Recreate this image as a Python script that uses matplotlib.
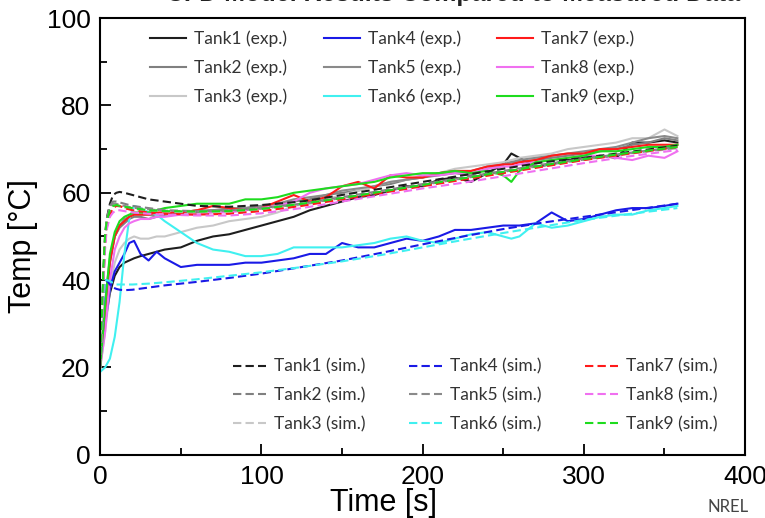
import matplotlib
matplotlib.use("Agg")
import matplotlib.pyplot as plt

# experimental data, time grid [s]
exp_t = [0, 3, 6, 9, 12, 15, 18, 21, 25, 30, 35, 40, 50, 60, 70, 80, 90, 100,
         110, 120, 130, 140, 150, 160, 170, 180, 190, 200, 210, 220, 230, 240,
         250, 255, 260, 270, 280, 290, 300, 310, 320, 330, 340, 350, 358]

tank1_exp = [22, 30, 37, 41, 43, 44, 44.5, 45, 45.5, 46, 46.5, 47, 47.5, 49, 50, 50.5, 51.5, 52.5,
             53.5, 54.5, 56, 57, 58, 59, 59.5, 60.5, 61.5, 61.5, 63, 63.5, 62.5, 64.5,
             66.5, 69, 68, 66, 66.5, 67.5, 68, 68.5, 68, 71.5, 71.5, 72, 71.5]
tank2_exp = [22, 35, 45, 50, 52, 53, 54, 54.5, 54.5, 54, 54.5, 55, 55.5, 55.5, 56, 56, 56.5, 57,
             57.5, 58, 58.5, 59.5, 60, 60.5, 61.5, 62, 63, 63.5, 64, 64.5, 64, 65.5,
             66.5, 67, 67, 67.5, 68, 68.5, 69, 69.5, 70, 71, 71.5, 72.5, 72]
tank3_exp = [20, 28, 38, 44, 47, 48.5, 49.5, 50, 49.5, 49.5, 50, 50, 51, 52, 52.5, 53.5, 54, 54.5,
             55.5, 57, 57.5, 58.5, 59.5, 60.5, 61.5, 62.5, 63, 64, 64.5, 65.5, 66, 66.5,
             67, 67.5, 68, 68.5, 69, 70, 70.5, 71, 71.5, 72.5, 72.5, 74.5, 73]
tank4_exp = [23, 30, 38, 42, 44, 46, 48.5, 49, 46, 44.5, 46.5, 45, 43, 43.5, 43.5, 43.5, 44, 44,
             44.5, 45, 46, 46, 48.5, 47.5, 47.5, 48.5, 49.5, 49, 50, 51.5, 51.5, 52,
             52.5, 52.5, 52.5, 53, 55.5, 53.5, 54, 55, 56, 56.5, 56.5, 57, 57.5]
tank5_exp = [21, 33, 44, 50, 52.5, 54, 54.5, 55, 55, 55, 54.5, 55, 55.5, 56, 56, 56.5, 56.5, 57,
             57.5, 58.5, 59, 59.5, 60.5, 61, 61.5, 62.5, 63, 63.5, 64.5, 65, 65, 66,
             66.5, 67, 67.5, 68, 68.5, 69, 69.5, 70, 70.5, 71.5, 72.5, 73, 72.5]
tank6_exp = [19, 20, 22, 27, 35, 46, 54, 57, 56.5, 55.5, 55, 53.5, 51, 48.5, 47, 46.5, 45.5, 45.5,
             46, 47.5, 47.5, 47.5, 47.5, 48, 48.5, 49.5, 50, 49, 48.5, 49.5, 50.5, 51,
             50, 49.5, 50, 53, 52, 52.5, 53.5, 54.5, 55, 55, 56, 56.5, 57]
tank7_exp = [20, 32, 44, 50, 52.5, 53.5, 54.5, 55, 55, 55, 55.5, 55.5, 55.5, 56, 57, 56.5, 56, 56.5,
             58, 59.5, 58, 59, 61.5, 62.5, 61, 64, 63.5, 63.5, 64.5, 65, 65, 66,
             66.5, 66.5, 67, 67.5, 68.5, 69, 69, 70, 70, 70.5, 71, 71, 71]
tank8_exp = [20, 28, 40, 47, 50, 52, 53, 53.5, 54, 54, 54.5, 54.5, 55, 55, 55.5, 55.5, 56, 56.5,
             57, 58, 60, 61, 61.5, 62, 63, 64, 64.5, 64, 64, 64.5, 64.5, 65.5,
             66, 66, 66.5, 67, 67.5, 68, 68.5, 68.5, 68, 67.5, 68.5, 68, 69.5]
tank9_exp = [20, 34, 46, 51, 53.5, 54.5, 55, 55.5, 55.5, 55.5, 56, 56.5, 57, 57.5, 57.5, 57.5, 58.5, 58.5,
             59, 60, 60.5, 61, 61.5, 62, 62.5, 63.5, 64, 64.5, 64.5, 65, 64.5, 65,
             64, 62.5, 65, 67, 67.5, 68, 68.5, 69.5, 69.5, 70, 70.5, 70.5, 71]

# simulation data
sim_t = [0, 1, 2, 3, 4, 6, 8, 10, 12, 15, 20, 30, 40, 60, 80, 100, 125, 150,
         175, 200, 225, 250, 275, 300, 325, 358]

tank1_sim = [20, 30, 42, 50, 54, 57.5, 59.5, 60, 60.2, 60, 59.5, 58.5, 58, 57, 56.8, 57.2, 58, 59.5,
             61, 62.5, 64, 65.5, 67, 68, 69.2, 70.8]
tank2_sim = [20, 30, 42, 50, 54, 57, 58, 58, 57.8, 57.5, 57, 56.5, 56, 55.8, 56, 56.5, 57.5, 59,
             60.5, 62, 63.5, 65, 66.5, 67.8, 69, 70.5]
tank3_sim = [20, 29, 40, 48, 53, 56, 57, 57, 56.8, 56.5, 56.2, 56, 55.7, 55.5, 55.6, 56.2, 57.3, 58.7,
             60.2, 61.7, 63.2, 64.7, 66.2, 67.5, 68.8, 70.2]
tank4_sim = [20, 28, 36, 40, 40, 39, 38.3, 38, 37.8, 37.7, 37.8, 38.3, 38.8, 39.6, 40.5, 41.5, 43, 44.5,
             46.3, 48.2, 50, 51.7, 53.2, 54.5, 55.8, 57.5]
tank5_sim = [20, 30, 41, 49, 53.5, 56.5, 57.5, 57.5, 57.2, 57, 56.6, 56.2, 55.9, 55.7, 55.9, 56.4, 57.4, 58.8,
             60.3, 61.8, 63.3, 64.8, 66.3, 67.6, 68.9, 70.3]
tank6_sim = [20, 28, 36, 40, 40, 39.8, 39.3, 39, 39, 39, 39, 39.2, 39.5, 40.2, 41, 41.8, 43, 44.3,
             45.8, 47.5, 49.2, 50.8, 52.3, 53.8, 55, 56.5]
tank7_sim = [20, 29, 40, 48, 52, 55, 56.5, 57, 57, 56.5, 56, 55.5, 55.2, 55, 55.2, 55.8, 57, 58.5,
             60, 61.5, 63, 64.5, 66, 67.5, 68.8, 70.5]
tank8_sim = [20, 28, 39, 47, 51.5, 54.5, 55.5, 56, 56, 55.8, 55.5, 55.2, 55, 54.8, 54.8, 55.3, 56.5, 58,
             59.5, 61, 62.3, 63.8, 65.3, 66.8, 68.2, 69.8]
tank9_sim = [20, 31, 43, 50, 53.5, 56, 57, 57.2, 57, 56.8, 56.5, 56, 55.8, 55.7, 55.8, 56.3, 57.5, 58.8,
             60.3, 61.8, 63.3, 64.8, 66.3, 67.7, 69, 70.5]

exp_series = [tank1_exp, tank2_exp, tank3_exp, tank4_exp, tank5_exp,
              tank6_exp, tank7_exp, tank8_exp, tank9_exp]
sim_series = [tank1_sim, tank2_sim, tank3_sim, tank4_sim, tank5_sim,
              tank6_sim, tank7_sim, tank8_sim, tank9_sim]
colors = ['#1e1e1e', '#808080', '#c8c8c8', '#1a1ae6', '#8a8a8a',
          '#40f0f0', '#ff1a1a', '#f070f0', '#1edc1e']

axis_font = ['Liberation Sans', 'DejaVu Sans']
legend_font = ['Lato', 'DejaVu Sans']

fig = plt.figure(figsize=(7.65, 5.18), dpi=100)
ax = fig.add_axes([0.131, 0.122, 0.843, 0.843])

exp_lines = []
for i, (y, c) in enumerate(zip(exp_series, colors)):
    ln, = ax.plot(exp_t, y, color=c, lw=1.5, label='Tank%d (exp.)' % (i + 1))
    exp_lines.append(ln)

sim_lines = []
for i, (y, c) in enumerate(zip(sim_series, colors)):
    ln, = ax.plot(sim_t, y, color=c, lw=1.5, ls=(0, (4, 2)), label='Tank%d (sim.)' % (i + 1))
    sim_lines.append(ln)

ax.set_xlim(0, 400)
ax.set_ylim(0, 100)
ax.set_xticks([0, 100, 200, 300, 400])
ax.set_xticks([50, 150, 250, 350], minor=True)
ax.set_yticks([0, 20, 40, 60, 80, 100])
ax.set_yticks([10, 30, 50, 70, 90], minor=True)
ax.tick_params(which='both', direction='in', top=False, right=False, width=1.3)
ax.tick_params(which='major', length=8, labelsize=19, pad=7)
ax.tick_params(which='minor', length=5)
for lab in ax.get_xticklabels() + ax.get_yticklabels():
    lab.set_family(axis_font)
for sp in ax.spines.values():
    sp.set_linewidth(1.5)

ax.set_xlabel('Time [s]', family=axis_font, fontsize=22)
ax.xaxis.set_label_coords(0.439, -0.076)
ax.set_ylabel('Temp [°C]', family=axis_font, fontsize=22)
ax.yaxis.set_label_coords(-0.096, 0.478)

leg_kw = dict(ncol=3, frameon=False, borderpad=0, handletextpad=0.46,
              labelspacing=0.72, prop={'family': legend_font, 'size': 12.5})
leg1 = ax.legend(handles=exp_lines, loc='upper left', bbox_to_anchor=(0.064, 0.991),
                 handlelength=2.07, columnspacing=2.1, **leg_kw)
for t in leg1.get_texts():
    t.set_color('#333333')
ax.add_artist(leg1)
leg2 = ax.legend(handles=sim_lines, loc='lower left', bbox_to_anchor=(0.193, 0.032),
                 handlelength=1.9, columnspacing=2.5, **leg_kw)
for t in leg2.get_texts():
    t.set_color('#333333')

fig.text(0.592, 1 - 1.0 / 518, 'CFD Model Results Compared to Measured Data', ha='center',
         va='baseline', fontsize=18, fontweight='bold', family=axis_font, color='#222222')
fig.text(0.952, 0.006, 'NREL', ha='center', va='bottom', fontsize=12,
         family=legend_font, color='#444444')

fig.savefig('out.png', dpi=100)
